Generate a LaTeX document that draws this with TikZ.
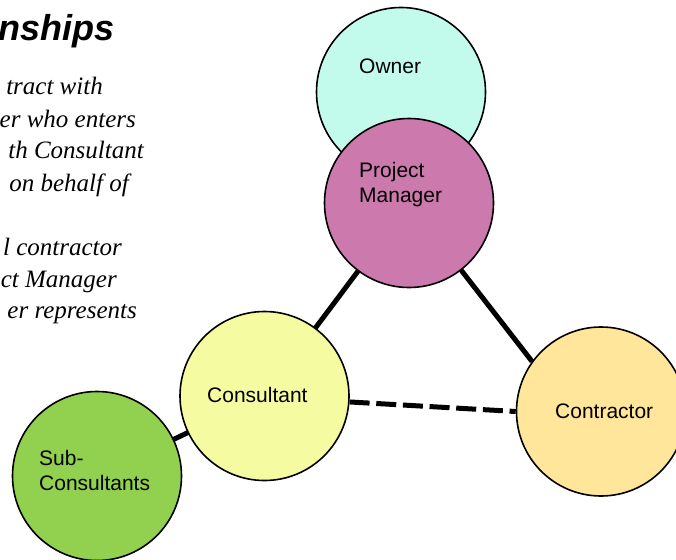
\documentclass[tikz,border=0pt]{standalone}
\usepackage{fontspec}
\setmainfont{Liberation Serif}
\newfontfamily\arialfont{Liberation Sans}
\newfontfamily\timesit{Liberation Serif Italic}
\usetikzlibrary{backgrounds}
\begin{document}
\begin{tikzpicture}[x=1pt,y=-1pt,
  party/.style={circle,draw=black,line width=1.6pt,minimum size=169pt,inner sep=0pt},
  lbl/.style={font=\arialfont\fontsize{21pt}{25pt}\selectfont,align=left,inner sep=0pt},
  body/.style={font=\timesit\fontsize{25pt}{31.7pt}\selectfont,inner sep=0pt,anchor=base east},
  link/.style={line width=5pt},
  dlink/.style={line width=5pt,dash pattern=on 20pt off 6.7pt}]
\useasboundingbox (0,0) rectangle (676,559);
% circles
\node[party,fill={rgb,255:red,194;green,251;blue,236}] (owner) at (401,92) {};
\node[party,fill={rgb,255:red,204;green,122;blue,173}] (pm) at (409,203) {};
\node[party,fill={rgb,255:red,245;green,251;blue,160}] (cons) at (264.5,396) {};
\node[party,fill={rgb,255:red,146;green,208;blue,80}] (sub) at (97,476) {};
\node[party,fill={rgb,255:red,255;green,230;blue,155}] (con) at (601,411.5) {};
% connectors (behind circles)
\begin{scope}[on background layer]
\draw[link] (pm.center) -- (cons.center);
\draw[link] (cons.center) -- (sub.center);
\draw[link] (pm.center) -- (con.144);
\draw[dlink] (cons.-4.7) -- (con.180);
\end{scope}
% labels
\node[lbl,anchor=base west] (tOwner) at (359,74) {Owner};
\node[lbl,anchor=base west] (tPM) at (359,202) {Project\\Manager};
\node[lbl,anchor=base west] (tCons) at (207,402) {Consultant};
\node[lbl,anchor=base west] (tSub) at (39,490) {Sub-\\Consultants};
\node[lbl,anchor=base west] (tCon) at (555,418) {Contractor};
% left text
\node[font=\arialfont\bfseries\itshape\fontsize{36pt}{40pt}\selectfont,inner sep=0pt,anchor=base east] (title) at (115,41) {nships};
\node[body] (l1) at (103,95) {tract with};
\node[body] (l2) at (136,127) {er who enters};
\node[body] (l3) at (144,158) {th Consultant};
\node[body] (l4) at (129,191) {on behalf of};
\node[body] (l5) at (122,255) {l contractor};
\node[body] (l6) at (117,287) {ct Manager};
\node[body] (l7) at (137,318) {er represents};
\end{tikzpicture}
\end{document}
